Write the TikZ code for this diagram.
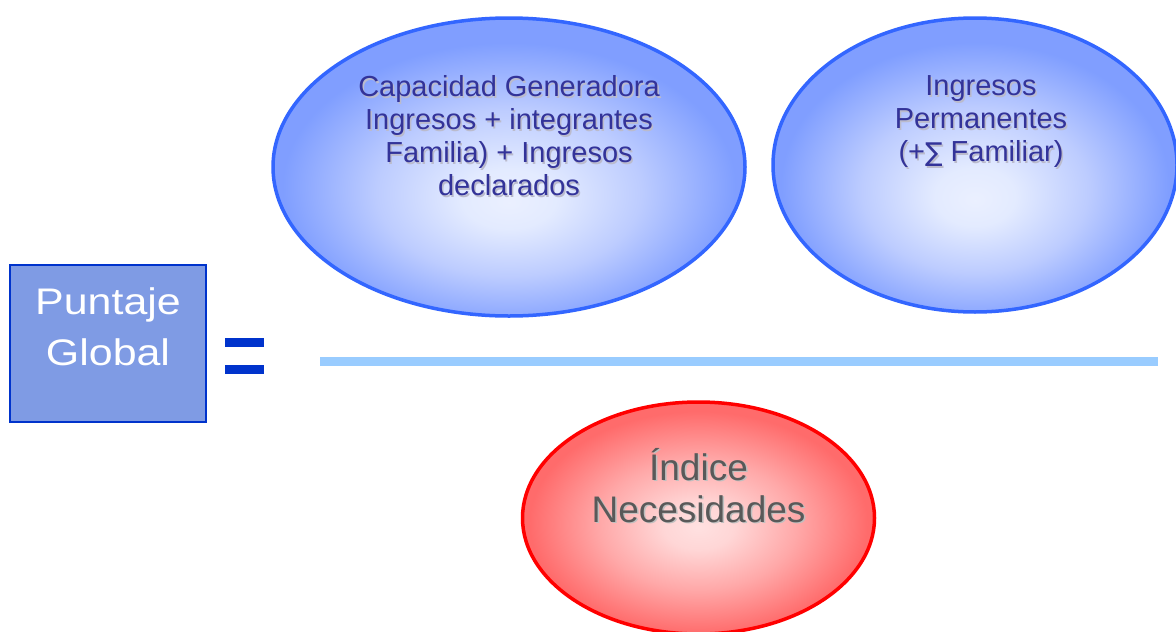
\documentclass[tikz,border=0pt]{standalone}
\usepackage{fontspec}
\setmainfont{Liberation Sans}
\newfontfamily\djv{DejaVu Sans}
\newfontfamily\widesans[FakeStretch=1.16]{Liberation Sans}
\usetikzlibrary{shapes.geometric}
\definecolor{boxfill}{HTML}{7F9BE4}
\definecolor{boxline}{HTML}{0033CC}
\definecolor{barcol}{HTML}{99CCFF}
\definecolor{bluerim}{HTML}{3366FF}
\definecolor{bluetxt}{HTML}{333399}
\definecolor{redrim}{HTML}{FF0000}
\definecolor{graytxt}{HTML}{595959}
\definecolor{shadowcol}{HTML}{BBBBCC}
\pgfdeclareradialshading{blueglow}{\pgfpoint{0bp}{-6bp}}{rgb(0bp)=(.92,.94,1); rgb(5bp)=(.89,.92,1); rgb(14bp)=(.74,.8,1); rgb(24bp)=(.5,.62,1); rgb(50bp)=(.5,.62,1)}
\pgfdeclareradialshading{redglow}{\pgfpoint{0bp}{-2bp}}{rgb(0bp)=(1,.88,.88); rgb(5bp)=(1,.84,.84); rgb(14bp)=(1,.66,.66); rgb(24bp)=(1,.42,.42); rgb(50bp)=(1,.42,.42)}
\tikzset{
  blueell/.style={ellipse, draw=bluerim, line width=3.5, shading=blueglow, inner sep=0},
  redell/.style={ellipse, draw=redrim, line width=3.5, shading=redglow, inner sep=0},
  captxt/.style={font=\fontsize{29}{33}\selectfont, align=center, text=bluetxt, inner sep=0},
  capshadow/.style={captxt, text=shadowcol},
  redtxt/.style={font=\fontsize{37}{42}\selectfont, align=center, text=graytxt, inner sep=0},
  redshadow/.style={redtxt, text=black!25},
  pgbox/.style={draw=boxline, fill=boxfill, line width=2, inner sep=0},
  pgtxt/.style={font=\widesans\fontsize{37}{51}\selectfont, align=center, text=white, inner sep=0},
  eqbar/.style={fill=boxline},
}
\begin{document}
\begin{tikzpicture}[x=1pt,y=-1pt]
\useasboundingbox[fill=white] (0,0) rectangle (1176,632);
% left box
\node[pgbox, minimum width=196, minimum height=157] (pg) at (108,343.5) {};
\node[pgtxt] (pgt) at (108,326.5) {Puntaje\\Global};
% equals sign
\fill[eqbar] (225,338) rectangle (264,347);
\fill[eqbar] (225,365) rectangle (264,374);
% fraction bar
\coordinate (barL) at (320,361.5);
\coordinate (barR) at (1158,361.5);
\draw[barcol, line width=9] (barL) -- (barR);
% ellipse 1
\node[blueell, minimum width=472, minimum height=298] (cap) at (509,167) {};
\node[capshadow] (capS) at (510.5,137.5) {Capacidad Generadora\\Ingresos + integrantes\\Familia) + Ingresos\\declarados};
\node[captxt] (capT) at (509,136) {Capacidad Generadora\\Ingresos + integrantes\\Familia) + Ingresos\\declarados};
% ellipse 2
\node[blueell, minimum width=404, minimum height=294] (ing) at (975,165) {};
\node[capshadow] (ingS) at (982.5,123.5) {Ingresos\\Permanentes\\(+{\djv\fontsize{26}{33}\selectfont ∑} Familiar)};
\node[captxt] (ingT) at (981,122) {Ingresos\\Permanentes\\(+{\djv\fontsize{26}{33}\selectfont ∑} Familiar)};
% ellipse 3
\node[redell, minimum width=352, minimum height=232] (nec) at (698.5,518) {};
\node[redshadow] (necS) at (700,487) {Índice\\Necesidades};
\node[redtxt] (necT) at (698.5,485.5) {Índice\\Necesidades};
\end{tikzpicture}
\end{document}
